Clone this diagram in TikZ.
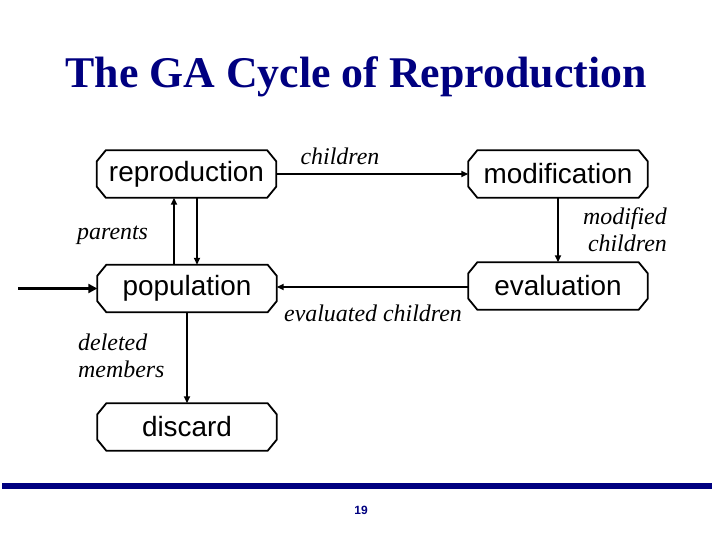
\documentclass[tikz,border=0pt]{standalone}
\usepackage{fontspec}
\setmainfont{Liberation Serif}
\newfontfamily\nodefont{Liberation Sans}
\usetikzlibrary{arrows.meta}
\definecolor{navy}{RGB}{0,0,128}
\tikzset{
  stage/.style={rectangle, minimum width=179bp, minimum height=47bp, inner sep=0pt,
    font=\nodefont\fontsize{28}{30}\selectfont},
  outline/.style={draw=black, line width=1.8bp, line join=miter},
  lbl/.style={font=\itshape\fontsize{24}{27}\selectfont, inner sep=0pt},
  conn/.style={line width=1.8bp, -{Triangle[length=7bp,width=6bp]}},
}
\begin{document}
\begin{tikzpicture}[x=1bp,y=-1bp]
\useasboundingbox (0,0) rectangle (720,540);
\node[font=\bfseries\fontsize{44}{48}\selectfont, text=navy, inner sep=0pt] (title) at (356,77) {The GA Cycle of Reproduction};
\node[stage] (repro) at (186.5,174) {\raisebox{-2bp}{reproduction}};
\node[stage] (modif) at (558,174) {\raisebox{-2bp}{modification}};
\node[stage] (eval) at (558,286) {\raisebox{-1bp}{evaluation}};
\node[stage] (pop) at (187,288.5) {\raisebox{-2bp}{population}};
\node[stage] (disc) at (187,427) {\raisebox{-2bp}{discard}};
\foreach \n in {repro,modif,eval,pop,disc}{
  \draw[outline] ([xshift=9bp]\n.north west) -- ([xshift=-9bp]\n.north east)
    -- ([yshift=-11bp]\n.north east) -- ([yshift=11bp]\n.south east)
    -- ([xshift=-9bp]\n.south east) -- ([xshift=9bp]\n.south west)
    -- ([yshift=11bp]\n.south west) -- ([yshift=-11bp]\n.north west) -- cycle;
}
\coordinate (in) at (18,288.5);
\draw[conn] (repro) -- (modif);
\draw[conn] (modif) -- (eval);
\draw[conn] (eval.west |- 0,287) -- (pop.east |- 0,287);
\draw[conn] (pop.north -| 174,0) -- (repro.south -| 174,0);
\draw[conn] (repro.south -| 197,0) -- (pop.north -| 197,0);
\draw[conn] (pop) -- (disc);
\draw[line width=3.5bp, -{Triangle[length=9bp,width=9bp]}] (in) -- (pop);
\node[lbl] (lchild) at (340,156) {children};
\node[lbl, anchor=east, align=right] (lmod) at (667,230) {modified\\children};
\node[lbl] (leval) at (373,313) {evaluated children};
\node[lbl, anchor=west] (lpar) at (77,235) {parents};
\node[lbl, anchor=west, align=left] (ldel) at (78,356) {deleted\\members};
\fill[navy] (2,483) rectangle (712,489);
\node[font=\nodefont\bfseries\fontsize{12}{13}\selectfont, text=navy, inner sep=0pt] (pg) at (361,510) {19};
\end{tikzpicture}
\end{document}
